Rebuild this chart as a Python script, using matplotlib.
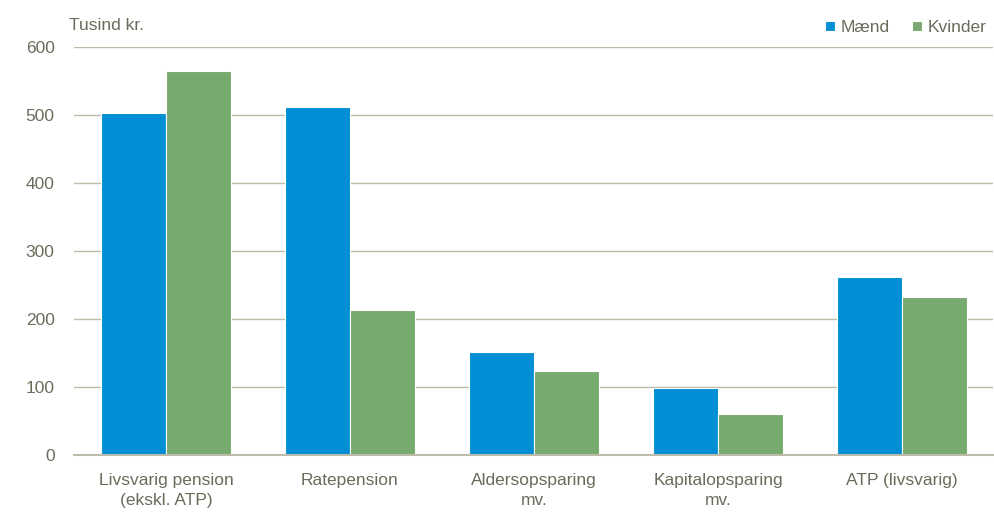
import numpy as np
import matplotlib.pyplot as plt

plt.rcParams['font.family'] = ['Liberation Sans', 'DejaVu Sans']

# Data (tusind kr.)
categories = ['Livsvarig pension\n(ekskl. ATP)', 'Ratepension', 'Aldersopsparing\nmv.',
              'Kapitalopsparing\nmv.', 'ATP (livsvarig)']
maend = [502, 512, 151, 98, 262]
kvinder = [565, 213, 123, 60, 232]
yticks = [0, 100, 200, 300, 400, 500, 600]

blue = '#008FD5'
green = '#77AA6E'
text_col = '#6B6B5C'
grid_col = '#BCBAA8'

W, H = 995, 515
fig = plt.figure(figsize=(W / 100, H / 100), dpi=100)
ax = fig.add_axes([74 / W, (H - 455) / H, 919 / W, (455 - 46.7) / H])

x = np.arange(len(categories))
bw = 65 / 184
ax.bar(x - bw / 2, maend, bw, color=blue, edgecolor='white', linewidth=0.8, label='Mænd', zorder=3)
ax.bar(x + bw / 2, kvinder, bw, color=green, edgecolor='white', linewidth=0.8, label='Kvinder', zorder=3)

ax.set_xlim(-0.5, len(categories) - 0.5 - 1 / 184)
ax.set_ylim(0, 600)
ax.set_yticks(yticks)
ax.set_yticklabels([str(t) for t in yticks])
ax.set_xticks(x)
ax.set_xticklabels(categories, linespacing=1.45)
ax.grid(axis='y', color=grid_col, linewidth=1.0, zorder=0)
ax.tick_params(length=0, labelsize=12.5, labelcolor=text_col)
ax.tick_params(axis='y', pad=14)
ax.tick_params(axis='x', pad=13)
for s in ['top', 'right', 'left']:
    ax.spines[s].set_visible(False)
ax.spines['bottom'].set_color(grid_col)
ax.spines['bottom'].set_linewidth(1.5)
ax.spines['bottom'].set_zorder(4)

fig.text(69 / W, 1 - 25 / H, 'Tusind kr.', fontsize=12.5, color=text_col, va='center', ha='left')

leg = ax.legend(loc='lower right', bbox_to_anchor=(987 / W, 1 - 35 / H), bbox_transform=fig.transFigure,
                ncol=2, frameon=False, fontsize=12.5, handlelength=0.55, handleheight=0.55,
                handletextpad=0.35, columnspacing=1.3, borderaxespad=0, borderpad=0)
for t in leg.get_texts():
    t.set_color(text_col)

fig.savefig('out.png', dpi=100)
